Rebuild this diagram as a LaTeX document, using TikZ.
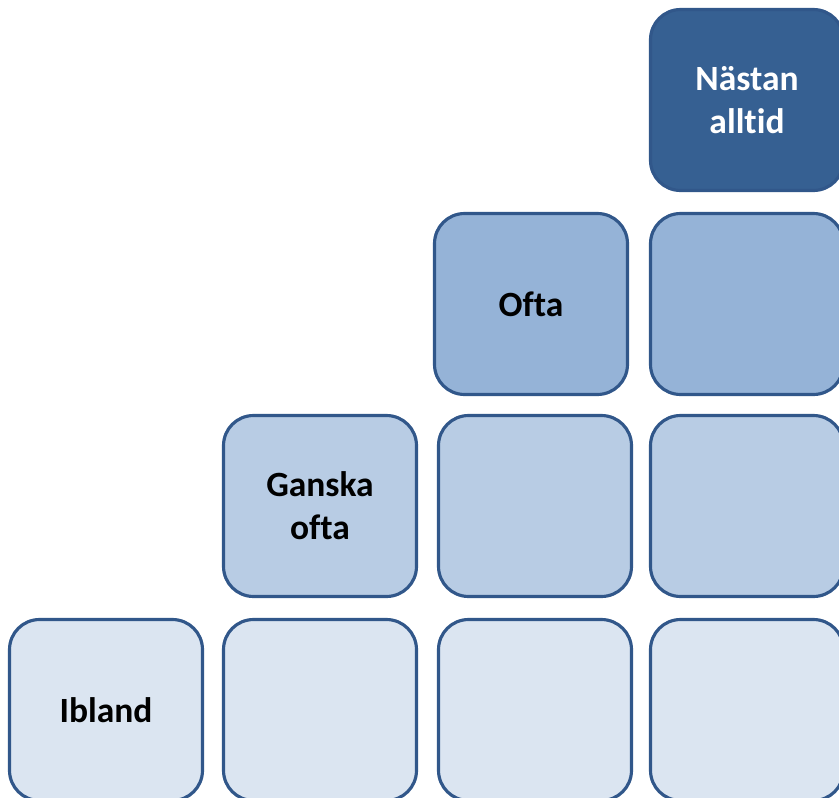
\documentclass[tikz,border=0pt]{standalone}
\usepackage{fontspec}
\setmainfont[Ligatures=NoCommon]{Carlito}
\usetikzlibrary{positioning}

\definecolor{rim}{HTML}{31578A}
\definecolor{level4}{HTML}{366092}
\definecolor{level3}{HTML}{95B3D7}
\definecolor{level2}{HTML}{B8CCE4}
\definecolor{level1}{HTML}{DBE5F1}

\begin{document}
\begin{tikzpicture}[x=0.02cm, y=-0.02cm]
\tikzstyle{cell}=[draw=rim, line width=1.8pt, rounded corners=0.6cm, minimum width=3.86cm, minimum height=3.62cm, inner sep=0pt, align=center, font=\fontsize{20.2}{24.4}\selectfont\bfseries];
\tikzstyle{lvlfour}=[cell, fill=level4, text=white];
\tikzstyle{lvlthree}=[cell, fill=level3];
\tikzstyle{lvltwo}=[cell, fill=level2];
\tikzstyle{lvlone}=[cell, fill=level1];
\useasboundingbox (0, 0) rectangle (839, 798);
\clip (0, 0) rectangle (839, 798);

\node[lvlfour] (alltid) at (747, 100) {Nästan\\alltid};

\node[lvlthree] (ofta) at (531, 304) {Ofta};
\node[lvlthree] (c34) at (747, 304) {};

\node[lvltwo] (ganska) at (320, 506) {Ganska\\ofta};
\node[lvltwo] (c23) at (535, 506) {};
\node[lvltwo] (c24) at (747, 506) {};

\node[lvlone] (ibland) at (106, 710) {Ibland};
\node[lvlone] (c12) at (320, 710) {};
\node[lvlone] (c13) at (535, 710) {};
\node[lvlone] (c14) at (747, 710) {};
\end{tikzpicture}
\end{document}
